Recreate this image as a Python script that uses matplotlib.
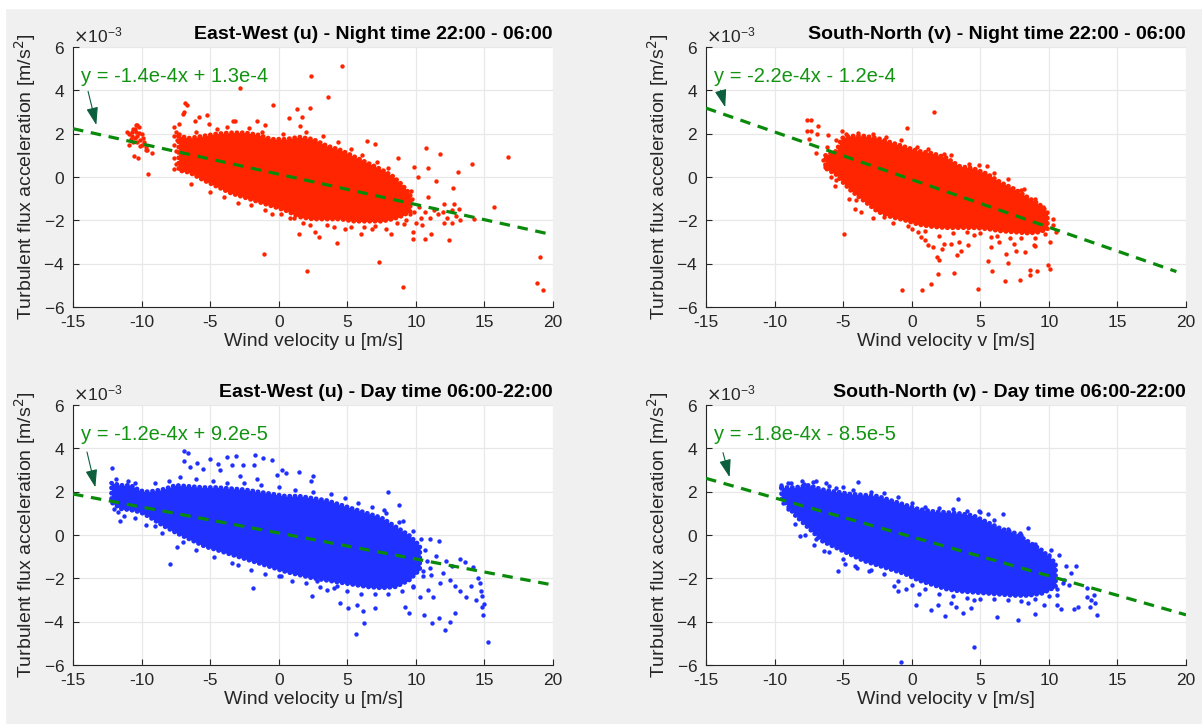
import matplotlib
matplotlib.use("Agg")
import matplotlib.pyplot as plt
from matplotlib.patches import Rectangle
from matplotlib.ticker import ScalarFormatter

plt.rcParams['font.family'] = ['Liberation Sans', 'DejaVu Sans']
plt.rcParams['axes.unicode_minus'] = False

RED = "#ff2500"
BLUE = "#1f30ff"

# --- East-West (u), night ------------------------------------------------
# values in 1e-3 m/s^2
night_u_core_x = [-7.3, -6.5, -5.5, -4.5, -3.5, -2.5, -1.5, -0.5, 0.5, 1.5, 2.5, 3.5,
                  4.5, 5.5, 6.5, 7.5, 8.3, 9.0, 9.6]
night_u_core_hi = [1.9, 1.8, 1.9, 2.0, 2.05, 2.05, 1.95, 1.75, 1.75, 1.85, 1.75, 1.45,
                   1.25, 0.95, 0.65, 0.35, 0.05, -0.35, -0.8]
night_u_core_lo = [0.3, 0.2, -0.15, -0.45, -0.75, -0.95, -1.15, -1.35, -1.55, -1.85, -1.95, -1.95,
                   -1.95, -2.05, -2.05, -2.05, -1.95, -1.8, -1.6]
night_u_pts_x = [4.6, 2.35, -2.8, 3.6, -6.84, -6.7, -6.89, -6.99, -0.39, 1.31, 0.78, 1.55,
                 -3.16, -1.58, -5.24, -5.8, -6.12, -5.05, -0.97, 2.27, 1.7, -3.3, -7.3,
                 6.46, 6.99, 8.71, 10.75, 11.75, 14.13, 9.83, 10.87, 10.17, 11.48, 13.08,
                 12.72, 9.64, 10.87, 12.04, 12.81, 13.16, 13.23, 12.65, 12.04, 12.4, 11.07,
                 10.66, 9.78, 9.78, 9.17, 14.22, 10.46, 16.7, 15.7,
                 19.05, 18.8, 19.3,
                 8.16, 7.28, 9.03, 5.97, 4.22, 2.96, 2.67, 2.09, 1.46, -1.09, 0.19, -0.49,
                 1.12, -6.41, 6.8, 5.3, 3.5, -3.0,
                 -9.56, -10.58, -10.24, -9.22, -9.68, -11.07, -10.36,
                 -10.9, -10.7, -10.6, -10.5, -10.4, -10.3, -10.2, -10.1, -10.0, -9.9,
                 -10.3, -10.6, -10.0, -9.8, -10.4, -10.7, -10.2, -10.5, -9.7, -10.8,
                 -10.15, -9.6, -10.9,
                 -7.6, -7.5, -7.6, -7.4, -7.6, -7.5, -7.6, -7.5, -7.6, -7.3, -7.2,
                 8.8, 9.1, 9.4, 9.7, 9.9, 10.2, 10.4, 8.9, 9.3, 9.6, 10.0, 8.6, 10.7,
                 11.0, 11.3, 11.6, 12.0, 12.3, 12.6, 12.9,
                 -4.5, -3.8, -2.2, -1.2, 0.3, 2.0, 3.2, 4.3, 5.3, 6.1, 7.2, 8.0, -6.0,
                 -5.0, -4.0, -2.0, -1.0, 0.8, 1.8, 2.3, 4.0, 4.8, 6.2, 7.0, 7.8]
night_u_pts_y = [5.1, 4.65, 4.1, 3.7, 3.42, 3.31, 3.0, 2.92, 3.32, 3.14, 2.74, 2.37,
                 2.57, 2.57, 2.85, 2.77, 2.58, 2.43, 2.42, 3.17, 2.77, 2.6, 2.45,
                 1.66, 1.54, 0.89, 1.35, 1.08, 0.58, 0.45, 0.42, 0.0, -0.18, 0.22,
                 -0.52, -0.65, -0.92, -1.23, -1.23, -1.46, -2.0, -2.12, -2.12, -2.89, -2.65,
                 -2.85, -2.85, -2.54, -2.15, -1.95, -2.23, 0.92, -1.38,
                 -3.7, -4.91, -5.22,
                 -2.62, -3.92, -5.08, -2.65, -3.05, -2.77, -2.55, -4.34, -2.62, -3.57, -1.72, -1.69,
                 -1.89, -0.34, -2.4, -2.3, -2.2, -1.2,
                 0.15, 0.95, 0.88, 1.11, 1.26, 2.08, 2.38,
                 2.0, 1.9, 2.2, 1.8, 2.1, 1.9, 2.3, 1.7, 2.0, 1.8,
                 1.6, 1.6, 1.5, 1.6, 2.4, 2.1, 2.05, 2.2, 1.4, 1.75,
                 1.45, 1.25, 1.5,
                 2.3, 2.1, 1.9, 1.7, 1.5, 1.2, 0.9, 0.6, 0.35, 2.0, 0.5,
                 -0.5, -0.9, -1.3, -1.0, -1.6, -1.4, -1.9, -1.7, -2.0, -1.7, -2.1, -2.1, -1.6,
                 -1.9, -1.5, -1.7, -1.6, -1.9, -1.5, -1.8,
                 2.2, 2.3, 2.25, 2.1, 2.0, 2.1, 1.9, 1.6, 1.3, 1.0, 0.7, 0.4, 2.1,
                 -0.7, -0.9, -1.3, -1.5, -1.9, -2.1, -2.2, -2.3, -2.4, -2.3, -2.25, -2.4]
night_u_fit = (-1.4e-4, 1.3e-4)
night_u_fit_x = [-15, 20]

# --- South-North (v), night ----------------------------------------------
night_v_core_x = [-6.3, -5.5, -5.1, -4.5, -3.5, -2.5, -1.5, -0.5, 0.5, 1.5, 2.5, 3.5,
                  4.5, 5.5, 6.5, 7.5, 8.5, 9.3, 9.9]
night_v_core_hi = [1.0, 1.2, 1.8, 1.9, 1.9, 1.8, 1.6, 1.4, 1.2, 1.1, 0.9, 0.5,
                   0.4, 0.15, -0.25, -0.55, -0.95, -1.25, -1.6]
night_v_core_lo = [0.4, 0.1, -0.2, -0.6, -1.1, -1.6, -1.85, -2.0, -2.2, -2.3, -2.35, -2.35,
                   -2.35, -2.4, -2.5, -2.55, -2.6, -2.55, -2.4]
night_v_pts_x = [1.65, -0.34, -5.1, -7.67, -7.33, -7.67, -7.33, -7.5, -6.84, -6.89, -6.97,
                 -6.07, -6.31, -5.5, -4.17, -4.05, -4.95, -1.99, -0.24, 0.44, 0.68, 1.21,
                 1.53, 1.84, 2.01, 1.89, 1.41, 0.73, -0.73, 3.11, 3.3, 2.38, 2.86, 3.47,
                 4.08, 4.81, 5.53, 5.83, 5.78, 6.87, 7.04, 6.8, 7.91, 8.59, 8.59, 9.17,
                 9.95, 10.05, 10.1, 8.93, 8.25, 7.48, 10.27, 10.27, 10.51, 8.2, 5.49, 2.38,
                 5.78, 4.56,
                 -4.8, -3.9, -2.8, -1.9, -0.8, 0.4, 1.2, 2.9, 4.2, 4.9, 6.0, 7.0, 8.0,
                 9.0, 9.6,
                 -5.6, -4.6, -3.7, -2.8, -1.4, 0.0, 1.0, 2.0, 3.0, 4.0, 5.0, 6.2, 7.2,
                 8.0, 9.0, 9.7, 9.0, 7.6, 6.4, 3.6, 2.2, 1.0,
                 -6.2, -5.9, -5.5, -6.5]
night_v_pts_y = [3.0, 2.26, 2.12, 2.62, 2.62, 2.12, 2.12, 1.77, 2.34, 2.0, 1.1,
                 1.92, 0.46, -0.12, -1.46, -1.08, -2.62, -1.85, -2.28, -2.54, -2.77, -3.15,
                 -3.23, -3.69, -3.85, -4.46, -4.95, -5.23, -5.23, -4.43, -3.62, -3.08, -3.08, -3.0,
                 -3.15, -5.15, -3.88, -4.34, -3.23, -3.54, -3.97, -4.8, -4.74, -4.28, -4.54, -4.34,
                 -4.08, -4.23, -3.0, -3.15, -3.46, -3.08, -1.92, -2.23, -2.54, -0.54, 0.49, 1.05,
                 -2.77, -2.69,
                 2.0, 2.05, 2.0, 1.85, 1.7, 1.4, 1.3, 1.0, 0.6, 0.55, 0.2, -0.1, -0.6,
                 -1.0, -1.4,
                 -0.4, -1.0, -1.6, -1.9, -2.1, -2.4, -2.5, -2.7, -2.6, -2.55, -2.6, -2.7, -2.8,
                 -2.8, -2.8, -2.65, -3.2, -3.4, -3.0, -3.4, -3.3, -2.9,
                 1.4, 0.0, 1.7, 0.8]
night_v_fit = (-2.2e-4, -1.2e-4)
night_v_fit_x = [-15, 19.3]

# --- East-West (u), day ---------------------------------------------------
day_u_core_x = [-12.2, -11.5, -10.8, -10.1, -9.5, -8.5, -7.5, -6.5, -5.5, -4.5, -3.5,
                -2.5, -1.5, -0.5, 0.5, 1.5, 2.5, 3.5, 4.5, 5.5, 6.5, 7.5, 8.5, 9.5, 10.3]
day_u_core_hi = [2.4, 2.3, 2.3, 2.05, 2.0, 2.1, 2.3, 2.25, 2.2, 2.2, 2.15,
                 2.1, 2.0, 1.9, 1.8, 1.8, 1.7, 1.6, 1.4, 1.2, 1.0, 0.8, 0.4, 0.0, -0.5]
day_u_core_lo = [1.5, 1.2, 1.15, 1.05, 0.85, 0.45, 0.1, -0.2, -0.5, -0.7, -0.9,
                 -1.1, -1.3, -1.5, -1.7, -1.85, -2.0, -2.1, -2.2, -2.3, -2.4, -2.45, -2.4, -2.1, -1.6]
day_u_pts_x = [-6.94, -6.65, -6.89, -5.0, -3.79, -3.11, -1.72, -1.12, -0.51, -4.44, -4.27,
               -3.42, -2.57, -1.8, -5.97, -6.46, -5.49, 0.22, 0.53, 1.48, 2.48, 2.33, -0.15,
               -1.6, -2.82, 7.99, 8.76, 7.69, 9.08, -12.16, -11.55, -11.75, -9.66, -7.43,
               -7.96, -5.19, -3.42, -1.84, 0.15, 2.4, 3.54, 4.47, 5.07, 5.68, 6.17, 6.21,
               5.63, 7.01, 2.77, 4.22, 9.2, 9.47, 10.58, 11.21, 11.7, 12.16, 12.48, 12.89,
               10.9, 11.26, 10.29, 9.81, 11.02, 11.7, 10.66, 11.5, 12.23, 12.6, 13.2, 13.57,
               14.17, 11.99, 12.48, 12.84, 13.2, 13.69, 14.05, 14.42, 14.66, 14.73, 14.83,
               11.75, 11.14, 10.53, 15.25, 14.95, 14.9, 14.56, 14.8,
               -9.0, -8.0, -7.2, -6.0, -4.8, -3.8, -2.5, -1.3, 0.0, 1.2, 2.5, 3.8, 4.8,
               5.8, 6.8, 7.8, 8.8, 9.8, 10.4, -11.9, -11.0, -10.5,
               -12.0, -11.3, -10.5, -9.0, -8.5, -7.0, -6.0, -4.7, -3.0, -2.0, -1.0, 0.0,
               1.0, 2.0, 3.0, 4.0, 5.0, 6.0, 7.0, 8.0, 9.0, 9.8, 10.5, 10.8, 11.0]
day_u_pts_y = [3.86, 3.8, 3.4, 3.49, 3.58, 3.64, 3.67, 3.55, 3.44, 3.29, 2.98,
               3.21, 3.24, 3.24, 3.33, 3.13, 3.05, 3.02, 2.85, 2.93, 2.74, 2.47, 2.78,
               2.59, 2.74, 2.0, 1.4, 1.15, 0.65, 3.09, 0.65, 1.04, 0.47, -0.56,
               -1.33, -0.54, -1.29, -2.45, -1.91, -2.81, -2.56, -3.12, -3.38, -3.22, -3.49, -4.05,
               -4.59, -3.38, -2.14, -2.37, -3.3, -3.58, -3.69, -4.08, -3.84, -4.39, -4.0, -3.61,
               -2.53, -2.84, -2.84, -2.37, -0.2, -0.28, -0.67, -0.98, -1.21, -1.44, -1.13, -1.26,
               -1.49, -1.75, -2.06, -2.37, -2.6, -2.84, -2.37, -2.99, -2.22, -2.6, -3.3,
               -2.22, -1.83, -1.67, -4.96, -3.2, -3.67, -1.98, -2.8,
               2.4, 2.5, 2.7, 2.6, 2.5, 2.4, 2.4, 2.3, 2.2, 2.1, 2.0, 1.9, 1.7,
               1.5, 1.3, 1.0, 0.6, 0.2, -0.2, 2.6, 2.5, 2.4,
               1.2, 0.9, 0.8, 0.4, 0.1, -0.3, -0.7, -1.0, -1.4, -1.6, -1.8, -1.9,
               -2.1, -2.2, -2.4, -2.45, -2.6, -2.7, -2.7, -2.7, -2.6, -2.4, -1.9, -1.2, -1.5]
day_u_fit = (-1.2e-4, 9.2e-5)
day_u_fit_x = [-15, 20]

# --- South-North (v), day -------------------------------------------------
day_v_core_x = [-9.5, -8.5, -7.5, -6.5, -5.5, -4.5, -3.5, -2.5, -1.5, -0.5, 0.5, 1.5,
                2.5, 3.5, 4.5, 5.5, 6.5, 7.5, 8.5, 9.5, 10.5]
day_v_core_hi = [2.2, 2.2, 2.3, 2.1, 2.0, 1.9, 1.85, 1.8, 1.6, 1.4, 1.2, 1.1,
                 1.05, 1.0, 0.9, 0.6, 0.3, 0.1, -0.3, -0.7, -1.3]
day_v_core_lo = [1.7, 0.9, 0.3, -0.3, -0.6, -0.9, -1.2, -1.4, -1.6, -1.8, -2.1, -2.3,
                 -2.5, -2.6, -2.65, -2.7, -2.75, -2.8, -2.8, -2.7, -2.4]
day_v_pts_x = [3.4, 6.63, 5.53, 4.93, 6.09, 7.91, 8.45, -3.93, -5.51, -6.24, -6.97, -7.82,
               -9.03, -9.51, -9.2, -9.39, -8.18, -7.14, -6.36, -5.39, -4.9, -4.17, -3.13,
               -1.26, -1.02, -0.41, 0.32, 0.56, 1.41, 1.89, 2.43, 2.86, 3.23, 3.71, 4.32,
               4.56, 4.56, -0.78, 6.21, 7.77, 8.98, 8.45, 9.66, 10.58, 10.92, 11.84, 12.09,
               12.77, 12.99, 13.06, 13.3, 13.38, 13.5, 12.77, 11.48, 11.12, 11.6, 11.24,
               10.73, 10.15, 11.99, 10.63, 10.27,
               -8.8, -8.0, -7.2, -6.0, -5.0, -4.3, -3.0, -2.0, -1.0, 0.0, 1.0, 2.0, 3.0,
               4.0, 5.0, 6.0, 7.0, 8.0, 9.0, 10.0,
               -9.0, -8.5, -7.8, -7.0, -6.0, -5.0, -4.0, -3.0, -2.0, -1.0, 0.0, 1.0, 2.0,
               3.0, 4.0, 5.0, 6.0, 7.0, 8.0, 9.0, 10.0, 10.6, 11.0]
day_v_pts_y = [1.66, 0.95, 0.95, 1.12, 0.34, 0.08, 0.34, 2.43, 2.16, 2.39, 2.51, 2.36,
               2.4, 2.31, 1.89, 1.5, -0.05, -0.48, -0.74, -1.67, -1.36, -1.44, -1.67,
               -2.34, -2.6, -2.5, -3.22, -2.71, -3.46, -3.22, -3.74, -3.15, -3.3, -3.61, -3.38,
               -2.99, -5.16, -5.86, -3.77, -3.92, -3.66, -3.12, -3.22, -3.22, -3.43, -3.43, -3.3,
               -2.84, -3.3, -2.99, -2.76, -3.15, -3.69, -2.45, -2.29, -2.06, -1.75, -1.44,
               -0.9, -0.67, -1.44, -2.76, -2.37,
               2.4, 2.5, 2.45, 2.25, 2.2, 2.1, 2.0, 1.95, 1.75, 1.5, 1.3, 1.25, 1.2,
               1.1, 1.05, 0.7, 0.3, 0.0, -0.4, -0.9,
               1.2, 0.5, 0.0, -0.2, -0.8, -1.1, -1.5, -1.6, -1.8, -2.1, -2.3, -2.5, -2.7,
               -2.8, -2.9, -2.95, -2.95, -3.0, -3.05, -2.95, -2.8, -2.5, -2.2]
day_v_fit = (-1.8e-4, -8.5e-5)
day_v_fit_x = [-15, 20]


def fit_label(fit):
    """
    Build the regression label, e.g. y = -1.4e-4x + 1.3e-4
    """
    slope, icpt = fit
    sign = "+" if icpt >= 0 else "-"
    return f"y = {slope:.1e}x {sign} {abs(icpt):.1e}".replace("e-0", "e-")


def draw_panel(ax, core, pts, fit, fit_x, color, title, xlabel, arrow):
    """
    Scatter cloud, regression line and its label on one axis
    """
    cx, chi, clo = core
    px, py = pts
    scale = 1e-3
    hi = [v * scale for v in chi]
    lo = [v * scale for v in clo]
    ax.fill_between(cx, lo, hi, color=color, lw=0, zorder=2)
    # beaded outline so the dense cloud keeps a dotted rim
    ax.plot(cx + cx[::-1] + cx[:1], hi + lo[::-1] + hi[:1], color=color, lw=3.2,
            linestyle=(0, (0.1, 1.1)), dash_capstyle="round", zorder=2)
    ax.scatter(px, [v * scale for v in py], s=10, color=color, lw=0, zorder=3)

    slope, icpt = fit
    ax.plot(fit_x, [slope * x + icpt for x in fit_x], color="#0a8a0a", lw=2.3,
            linestyle=(0, (3.3, 2.4)), zorder=4)

    ax.text(-14.45, 4.62e-3, fit_label(fit), color="#129412", fontsize=14.5,
            va="center", ha="left", zorder=5)
    (tx, ty), (hx, hy) = arrow
    ax.annotate("", xy=(hx, hy * scale), xytext=(tx, ty * scale),
                arrowprops=dict(arrowstyle="-|>,head_length=0.9,head_width=0.3",
                                color="#0c5f3c", lw=0.8, mutation_scale=12,
                                shrinkA=0, shrinkB=0), zorder=5)

    ax.set_xlim(-15, 20)
    ax.set_ylim(-6e-3, 6e-3)
    ax.set_xticks(range(-15, 21, 5))
    ax.set_yticks([v * 1e-3 for v in range(-6, 7, 2)])
    fmt = ScalarFormatter(useMathText=True)
    fmt.set_powerlimits((-2, 2))
    ax.yaxis.set_major_formatter(fmt)
    ax.yaxis.get_offset_text().set_fontsize(12.5)
    ax.yaxis.get_offset_text().set_color("#4d4d4d")

    ax.set_facecolor("white")
    ax.grid(True, color="#e8e8e8", lw=0.9, zorder=0)
    ax.set_axisbelow(True)
    for side in ("top", "right"):
        ax.spines[side].set_visible(False)
    for side in ("left", "bottom"):
        ax.spines[side].set_color("#262626")
        ax.spines[side].set_linewidth(0.8)
    ax.tick_params(direction="in", length=4, width=0.8, colors="#262626",
                   labelsize=12.5, pad=6)

    ax.set_title(title, loc="right", fontweight="bold", fontsize=14, pad=6)
    ax.set_xlabel(xlabel, fontsize=14, color="#262626", labelpad=2)
    ax.set_ylabel("Turbulent flux acceleration [m/s$^2$]", fontsize=14,
                  color="#262626", labelpad=4)


fig = plt.figure(figsize=(12.02, 7.24), dpi=100, facecolor="#f0f0f0")
fig.patches.append(Rectangle((0, 1 - 8 / 724), 1, 8 / 724, transform=fig.transFigure,
                             color="white", zorder=-1))
fig.patches.append(Rectangle((0, 0), 5 / 1202, 1, transform=fig.transFigure,
                             color="white", zorder=-1))

w, h = 480 / 1202, 260 / 724
ax_tl = fig.add_axes([73 / 1202, 1 - 307 / 724, w, h])
ax_tr = fig.add_axes([706 / 1202, 1 - 307 / 724, w, h])
ax_bl = fig.add_axes([73 / 1202, 1 - 665 / 724, w, h])
ax_br = fig.add_axes([706 / 1202, 1 - 665 / 724, w, h])

draw_panel(ax_tl, (night_u_core_x, night_u_core_hi, night_u_core_lo),
           (night_u_pts_x, night_u_pts_y), night_u_fit, night_u_fit_x, RED,
           "East-West (u) - Night time 22:00 - 06:00", "Wind velocity u [m/s]",
           ((-13.9, 3.95), (-13.3, 2.4)))
draw_panel(ax_tr, (night_v_core_x, night_v_core_hi, night_v_core_lo),
           (night_v_pts_x, night_v_pts_y), night_v_fit, night_v_fit_x, RED,
           "South-North (v) - Night time 22:00 - 06:00", "Wind velocity v [m/s]",
           ((-13.94, 4.0), (-13.6, 3.22)))
draw_panel(ax_bl, (day_u_core_x, day_u_core_hi, day_u_core_lo),
           (day_u_pts_x, day_u_pts_y), day_u_fit, day_u_fit_x, BLUE,
           "East-West (u) - Day time 06:00-22:00", "Wind velocity u [m/s]",
           ((-13.98, 3.83), (-13.37, 2.2)))
draw_panel(ax_br, (day_v_core_x, day_v_core_hi, day_v_core_lo),
           (day_v_pts_x, day_v_pts_y), day_v_fit, day_v_fit_x, BLUE,
           "South-North (v) - Day time 06:00-22:00", "Wind velocity v [m/s]",
           ((-13.76, 3.8), (-13.28, 2.67)))

fig.savefig("out.png", dpi=100, facecolor=fig.get_facecolor())
